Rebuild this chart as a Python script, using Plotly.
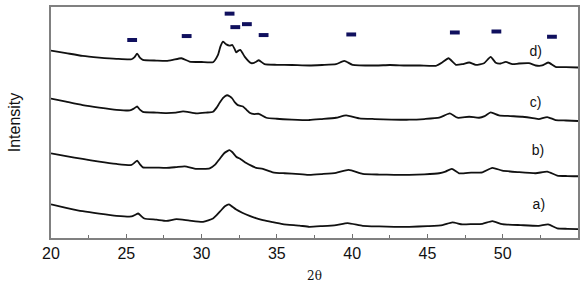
import plotly.graph_objects as go

# 2-theta positions and intensities (a.u.)
x_d = [20.0, 21.0, 22.1, 23.2, 24.35, 25.35, 25.55, 25.72, 25.9, 26.1, 27.0, 27.67, 28.1, 28.66, 29.2, 30.0,
       30.76, 31.09, 31.25, 31.42, 31.55, 31.64, 31.86, 32.04, 32.2, 32.3, 32.45, 32.57, 32.7, 32.86, 33.3,
       33.6, 33.8, 34.18, 35.0, 36.0, 37.16, 38.0, 38.93, 39.48, 40.03, 41.58, 42.5, 43.57, 44.5, 45.56,
       46.0, 46.4, 46.89, 47.32, 47.77, 48.21, 48.76, 49.2, 49.54, 49.87, 50.2, 50.64, 51.08, 51.74, 52.19,
       52.62, 53.02, 53.51, 54.2, 55.0]
y_d = [189, 186.5, 183.7, 182, 180.7, 180.3, 182.5, 186, 182, 179.7, 179, 178.7, 179.7, 181.3, 178, 177.5,
       177.3, 184.7, 193, 198, 196.5, 195.3, 194, 194.7, 190.5, 187.3, 189, 189.7, 187, 183, 176.3,
       177.5, 179.3, 175.3, 174.7, 174.5, 174, 174.5, 175.3, 178.7, 174.7, 174, 174.5, 174, 174, 173.7,
       177.3, 181.3, 174.7, 175.3, 177, 174.7, 176.3, 182.7, 176.7, 176, 177.7, 175.3, 176, 176.3, 174,
       174, 177, 172.7, 172.3, 172]

x_c = [20.0, 21.0, 22.1, 23.2, 24.35, 25.24, 25.5, 25.72, 25.9, 26.1, 27.0, 27.67, 28.3, 28.77, 29.66, 30.3,
       30.76, 31.0, 31.2, 31.45, 31.69, 31.86, 32.04, 32.2, 32.41, 32.75, 33.0, 33.19, 33.5, 33.8, 34.3,
       35.0, 36.0, 37.16, 38.0, 38.93, 39.6, 40.48, 41.5, 42.6, 43.79, 44.8, 45.78, 46.49, 47.0, 47.77,
       48.43, 48.8, 49.2, 49.75, 50.5, 51.3, 52.0, 52.4, 52.96, 53.51, 54.2, 55.0]
y_c = [140.7, 137.5, 134, 131.5, 129.3, 128.7, 130.5, 132.7, 129.5, 127.3, 126.5, 126, 126.5, 127.7, 125.7, 126.5,
       127.3, 131.5, 136.3, 141.5, 144, 143, 140.7, 137, 134, 132.7, 129, 126.3, 125, 125.3, 121.3,
       120.3, 119.5, 119, 120, 121.3, 123.7, 120.7, 120, 119.5, 119.3, 120, 121.3, 125.7, 121.3, 122.3,
       121.3, 123, 126.7, 123.7, 123, 122.3, 121, 120, 122, 119, 118.5, 118]

x_b = [20.0, 21.0, 22.1, 23.2, 24.35, 25.35, 25.55, 25.72, 25.9, 26.1, 27.0, 27.67, 28.3, 28.88, 29.66, 30.54,
       30.9, 31.2, 31.5, 31.86, 32.05, 32.3, 32.6, 32.97, 33.3, 33.63, 34.07, 34.73, 35.5, 36.5, 37.16,
       38.0, 38.93, 39.77, 40.7, 41.8, 42.8, 43.79, 44.8, 45.78, 46.2, 46.62, 47.1, 47.9, 48.65, 49.31,
       49.97, 51.0, 52.19, 52.96, 53.62, 54.3, 55.0]
y_b = [85.3, 82.5, 79.7, 77, 74.7, 73.7, 76, 78, 74.5, 71.3, 71, 70.7, 71.5, 72.3, 69.7, 70.3,
       74, 79.7, 85.5, 88.7, 86.5, 82, 79.5, 75.7, 73, 70.7, 69.7, 66.3, 65.3, 64.5, 63.7,
       64.5, 65.7, 68.7, 64.7, 64, 63.7, 63.7, 64.2, 65.3, 67, 69.7, 65.3, 66, 66.3, 70.7,
       68, 66.5, 65.3, 67, 63, 62.5, 62.3]

x_a = [20.0, 21.0, 22.1, 23.2, 24.35, 25.35, 25.6, 25.79, 26.0, 26.2, 27.0, 27.67, 28.33, 29.2, 30.1, 30.76,
       31.0, 31.3, 31.55, 31.82, 32.05, 32.3, 32.7, 33.19, 33.6, 34.07, 34.7, 35.39, 36.5, 37.16, 38.0,
       38.93, 39.7, 40.7, 41.8, 42.8, 43.79, 45.0, 46.0, 46.66, 47.32, 48.0, 48.65, 49.31, 49.97, 51.2,
       52.4, 53.02, 53.62, 54.3, 55.0]
y_a = [34, 30.5, 27, 24.5, 22.3, 21.7, 23.5, 24.7, 22, 19.7, 18.5, 17.3, 19, 17.5, 16.3, 19.7,
       23, 28, 32, 34, 31.5, 28.7, 25.5, 22.3, 20, 18, 16, 14, 12.5, 11.3, 12,
       13, 15, 12.3, 11.7, 11.3, 11.3, 12, 13, 15.7, 13.7, 14, 14.3, 17, 14, 13,
       12.3, 13.7, 9.7, 9.3, 9]

# reflection markers
mark_x = [25.39, 29.01, 31.86, 32.24, 33.01, 34.12, 39.94, 46.82, 49.58, 53.27]
mark_y = [199.7, 203.7, 226.3, 212.7, 215.7, 204.7, 205.3, 207.3, 208.3, 203]

# curve labels
lab_text = ["d)", "c)", "b)", "a)"]
lab_x = [52.19, 52.19, 52.34, 52.4]
lab_y = [187.3, 135.3, 87, 33]

tick_vals = [20, 25, 30, 35, 40, 45, 50, 55]

fig = go.Figure()
for xs, ys in [(x_a, y_a), (x_b, y_b), (x_c, y_c), (x_d, y_d)]:
    fig.add_trace(go.Scatter(x=xs, y=ys, mode="lines",
                             line=dict(color="#111111", width=1.8, shape="spline", smoothing=0.5),
                             showlegend=False, hoverinfo="skip"))

fig.add_trace(go.Scatter(x=mark_x, y=mark_y, mode="markers",
                         marker=dict(symbol="line-ew", size=7,
                                     line=dict(width=4, color="#10105e")),
                         showlegend=False, hoverinfo="skip"))

fig.add_trace(go.Scatter(x=lab_x, y=lab_y, mode="text", text=lab_text,
                         textfont=dict(family="Liberation Sans, Arial, sans-serif", size=14, color="#111111"),
                         showlegend=False, hoverinfo="skip"))

fig.update_layout(
    width=585, height=291,
    margin=dict(l=51, r=6, t=5, b=53),
    paper_bgcolor="white", plot_bgcolor="white",
    xaxis=dict(range=[20, 55], tickvals=tick_vals, ticktext=[str(v) for v in tick_vals],
               ticks="inside", ticklen=4, tickwidth=1.2, tickcolor="#707070",
               minor=dict(ticks="inside", dtick=2.5, ticklen=3, tickcolor="#707070", tickwidth=1.2),
               showline=True, linecolor="#808080", linewidth=2, mirror=True,
               showgrid=False, zeroline=False,
               tickfont=dict(family="Liberation Sans, Arial, sans-serif", size=16, color="#111111"),
               title=dict(text="2θ", font=dict(family="DejaVu Serif, serif", size=12, color="#111111"),
                          standoff=10)),
    yaxis=dict(range=[0, 233], showticklabels=False, ticks="",
               showline=True, linecolor="#808080", linewidth=2, mirror=True,
               showgrid=False, zeroline=False,
               title=dict(text="Intensity",
                          font=dict(family="Liberation Sans Narrow, Arial Narrow, Liberation Sans, sans-serif",
                                    size=16, color="#111111"),
                          standoff=24)),
)

fig.write_html("out.html")
